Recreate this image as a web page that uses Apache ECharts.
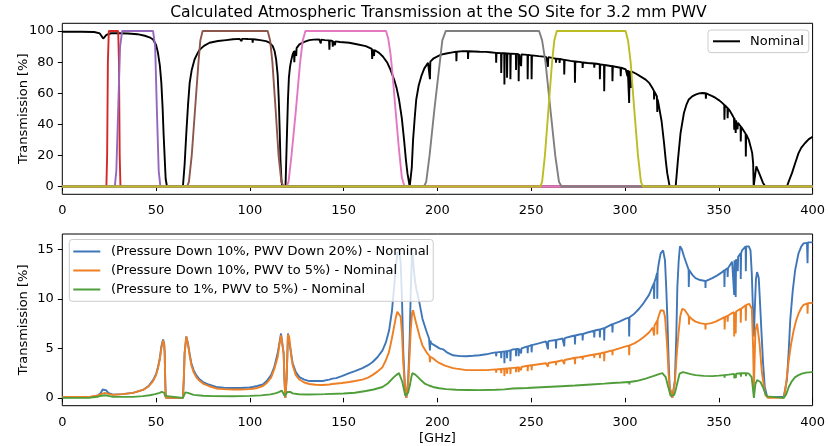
<!DOCTYPE html>
<html><head><meta charset="utf-8">
<script src="https://cdn.jsdelivr.net/npm/echarts@6/dist/echarts.min.js"></script>
<style>html,body{margin:0;padding:0;background:#fff}#c{width:828px;height:446px}</style>
</head><body><div id="c"></div>
<script>
const xTicks = [0, 50, 100, 150, 200, 250, 300, 350, 400];
const topYTicks = [0, 20, 40, 60, 80, 100];
const botYTicks = [0, 5, 10, 15];
const titleText = 'Calculated Atmospheric Transmission at the SO Site for 3.2 mm PWV';
const bottomNames = ['(Pressure Down 10%, PWV Down 20%) - Nominal', '(Pressure Down 10%, PWV to 5%) - Nominal', '(Pressure to 1%, PWV to 5%) - Nominal'];

// [GHz, %] Nominal transmission
const nominal = [[0,99.6],[10,99.6],[17,99.4],[20,98.5],[21.8,95.2],[23.5,97.5],[26,98.6],[30,98.6],[35,98.4],[40,98],[44,97],[46.5,96],[48.4,94.6],[50,91],[51,86],[52,78],[52.8,66.7],[53.5,50],[54,34],[54.6,18],[55.1,5],[55.8,0],
[64.3,0],[65.2,14],[66.1,34],[67,52],[67.9,66.7],[69,75],[70.5,81.7],[72,85.5],[73.2,88],[75.5,90.5],[78.5,92.5],[83,93.6],[87.4,94.2],[91,94.7],[94.5,95],[95.4,95],[95.6,93.5],[95.8,95],[97,95],[97.2,94],[97.4,95],[99,94.9],[101.3,94.8],[101.5,92.5],[101.7,94.8],[103,94.6],[105.5,94.2],[108.6,93.5],[110.5,92.5],[112.2,90.3],[113.2,87],[114,81.7],[114.8,72],[115.4,56],[115.9,36],[116.3,17],[116.8,5],[117.2,0],[119,0],[119.3,13],[119.8,35],[120.3,56],[120.8,70],[121.4,77],[122,81],[122.8,85],[123.5,87],[123.7,80],[123.9,87.5],[124.5,88.5],[124.7,84],[124.9,89],[126.4,91.4],[129,93],[131.7,94.2],[134,94.5],[137,94.6],[137.6,94.5],[137.8,92],[138,94.5],[140,94.2],[142.2,94],[142.4,88],[142.6,93.9],[144,93.6],[144.2,90],[144.4,93.5],[145.2,93.4],[145.4,91],[145.6,93.4],[148,93],[153,92.5],[157,91.5],[161.8,90.3],[165,88.5],[165.2,82],[165.4,88.3],[166,88],[166.2,84],[166.4,87.8],[168.9,86],[171,83.5],[173.3,79.6],[175,75],[176.9,68.8],[178.3,63],[179.5,56],[181,44],[182.2,30],[183.2,17],[184,8.6],[185.2,0],
[185.8,0],[186.3,12],[187,30],[188,46],[188.7,56],[190,65],[191.4,71],[193,76],[195,79.6],[195.8,80],[196,69],[196.2,80.3],[198,82.5],[200.3,83.9],[202,84.8],[204.7,85.6],[208,86.3],[210,86.7],[210.1,80.6],[210.3,86.7],[213.6,87.1],[216.2,87],[216.3,82],[216.5,87],[222.4,86.7],[226,86.6],[228,86.4],[231.2,86],[231.3,79.6],[231.5,86],[233.9,85.8],[234,73],[234.2,85.8],[235.6,85.7],[235.7,65.6],[235.9,85.7],[237,85.6],[237.1,70],[237.3,85.6],[238.8,85.5],[238.9,69],[239.1,85.5],[241.8,85.3],[241.9,75],[242.1,85.3],[243.2,85.2],[243.3,67.7],[243.5,85.2],[244.5,85.1],[244.6,77.4],[244.8,85],[248,84.7],[248.1,69],[248.3,84.7],[250.1,84.4],[250.2,69],[250.4,84.4],[254,83.9],[257.9,83.4],[258.8,83.2],[258.9,77],[259.1,83.2],[263.1,82.3],[263.2,79.6],[263.4,82.3],[265,82],[265.1,79.5],[265.3,82],[267.5,81.5],[267.6,72],[267.8,81.5],[271,80.8],[273.2,80.4],[273.3,66.7],[273.5,80.4],[275.6,80.2],[277.3,79.8],[277.4,76.3],[277.6,79.8],[280,79.5],[283.5,79.1],[283.6,76.5],[283.8,79.1],[286.5,78.7],[286.6,69],[286.8,78.6],[288.8,78.2],[288.9,61.3],[289.1,78.2],[293.2,77.4],[293.3,67.7],[293.5,77.4],[297.6,76.4],[297.7,71],[297.9,76.4],[300.4,75.3],[301.2,74.9],[301.3,71],[301.5,74.9],[302.1,74.6],[302.2,53.8],[302.4,74.4],[303,74.2],[303.1,63.4],[303.3,74.1],[305.7,72.7],[308,71],[311,68.8],[313,66.5],[314.6,63.4],[315.4,61.5],[315.5,56],[315.7,61],[317,58],[317.2,48],[317.4,56],[318.1,51.6],[319.5,42],[320.8,28],[321.7,17],[322.5,8.6],[323.8,0],
[327,0],[328.2,17],[329.6,34.4],[331.4,47.3],[332.7,52.5],[334,56],[335.8,58],[337.6,59.1],[339.5,59.9],[341.2,60.2],[343,60],[343.1,56.5],[343.3,60],[344.7,59.1],[346.5,58.2],[348.3,57],[350,55.6],[351.8,53.8],[352.9,52.5],[353,43],[353.2,52.3],[354.6,50.6],[354.7,44],[354.9,50.3],[356,48.5],[357.1,46.2],[358.1,44],[358.2,36.6],[358.4,43.8],[358.9,42.8],[359,34.4],[359.2,42.5],[359.9,41.5],[360,36.8],[360.2,41],[361,39.8],[361.6,38.8],[361.7,29],[361.9,38.5],[362.4,37.8],[364.3,34],[364.4,19.4],[364.6,33.6],[366,30],[367,25.5],[367.8,21.5],[368.3,15],[368.6,0],[369.1,5],[370,13],[371,10],[372.2,6.5],[373.5,2.5],[374.8,0],
[386.3,0],[387.5,4],[389,8.6],[390.7,15],[392.5,21.5],[394,25],[396,28],[398,30.5],[400,32]];

// [GHz, %] band passes
const band1 = [[0,0],[23.5,0],[23.9,20],[24.3,80],[24.8,100],[29.8,100],[30.2,80],[30.6,20],[31,0],[400,0]];
const band2 = [[0,0],[28,0],[28.8,10],[29.8,50],[30.8,90],[31.9,100],[48.4,100],[49.5,90],[50.4,50],[51.4,10],[52.3,0],[400,0]];
const band3 = [[0,0],[66.5,0],[67.5,3],[69,20],[70.8,50],[72.6,80],[73.6,94],[74.8,100],[109.5,100],[110.8,94],[112,80],[113.7,50],[115.3,20],[116.8,3],[118,0],[400,0]];
const band4 = [[0,0],[119.6,0],[120.6,3],[122.2,20],[124.6,50],[126.8,80],[128.2,94],[129.6,100],[172.6,100],[173.8,95],[175,85],[176,73],[177.6,50],[179.4,25],[181,6],[182.4,0],[400,0]];
const band5 = [[0,0],[192.8,0],[194,3],[195.8,20],[198.4,50],[200.8,75],[202.6,94],[204.4,100],[254.2,100],[255.8,94],[257.6,80],[260.2,50],[262.8,20],[264.8,3],[266.2,0],[400,0]];
const band6 = [[0,0],[254.8,0],[255.8,3],[257.3,20],[259.2,50],[261.1,80],[262.3,94],[263.6,100],[300.3,100],[301.6,94],[303,80],[304.9,50],[306.9,20],[308.5,3],[309.6,0],[400,0]];

// [GHz, %] differences
const diffA = [[0,0.05],[15,0.08],[19,0.25],[20.5,0.5],[21.5,0.85],[22.5,1.0],[23.5,0.75],[24.5,0.5],[27,0.33],[32,0.38],[37.7,0.5],[43,0.8],[46,1.2],[48.4,1.8],[50,2.4],[51,3.1],[52,4],[52.8,5.2],[53.7,5.9],[54.3,5.5],[54.6,4.5],[54.9,1.5],[55.2,0],[64.3,0],[64.8,2],[65.2,4.5],[66.1,6.2],[67,5.5],[68,4.3],[68.8,3.5],[70,2.8],[71.4,2.3],[73,1.9],[75,1.6],[78,1.35],[82,1.1],[86,1.02],[91,1.0],[95,1.0],[99.8,1.05],[101.5,1.1],[101.6,0.98],[101.7,1.1],[104,1.2],[106.9,1.35],[109,1.7],[111.3,2.3],[113,3.1],[114.8,4.5],[115.8,5.6],[116.6,6.5],[117.5,6.5],[118,4.5],[118.4,2],[118.9,0],[119.6,2],[120,4.5],[120.3,6.5],[121,6.3],[122,4.5],[122.8,3.5],[124.5,2.6],[126.4,2.1],[129,1.85],[131.7,1.7],[135,1.7],[138.8,1.7],[141,1.8],[142.3,1.85],[142.4,1.65],[142.5,1.85],[144,1.95],[146,2.0],[149,2.2],[153,2.5],[156,2.7],[160,3.0],[163,3.3],[165.3,3.6],[165.4,3.4],[165.5,3.65],[168,4.1],[170.7,4.8],[172.5,5.6],[174.2,6.8],[175.7,8.7],[176.9,11.2],[177.8,13],[178.6,14.6],[179.5,14.9],[180.4,13.6],[181.1,10],[181.8,4.5],[182.7,1],[183.4,0],[184.4,1.8],[185.2,6],[185.8,11],[186.5,14.9],[187,14.9],[187.9,12],[188.7,11],[189.6,10.3],[190.5,9.5],[192,8],[194,6.8],[195.5,6.0],[195.8,5.9],[196,4.8],[196.2,5.8],[196.7,5.5],[199.4,5.2],[201,5.0],[203,4.9],[205,4.6],[208.3,4.3],[212,4.22],[215.4,4.2],[219,4.25],[222.4,4.3],[226,4.4],[229.5,4.55],[231.2,4.6],[231.3,4.2],[231.5,4.6],[233.9,4.65],[234,4.0],[234.2,4.65],[235.6,4.7],[235.7,3.5],[235.9,4.7],[237,4.72],[237.1,4.0],[237.3,4.72],[238.8,4.8],[238.9,3.7],[239.1,4.8],[240.2,4.9],[241.8,4.92],[241.9,4.2],[242.1,4.93],[243.2,4.95],[243.3,4.2],[243.5,4.95],[244.5,5.0],[244.6,4.5],[244.8,5.0],[248,5.2],[248.1,4.5],[248.3,5.2],[249,5.3],[250.1,5.32],[250.2,4.6],[250.4,5.33],[254,5.5],[257.9,5.7],[258.8,5.72],[258.9,4.9],[259.1,5.73],[263.1,5.85],[263.2,5.0],[263.4,5.85],[266.7,6.0],[267.5,6.02],[267.6,5.2],[267.8,6.03],[271,6.2],[273.2,6.3],[273.3,5.4],[273.5,6.3],[275.6,6.4],[277.3,6.45],[277.4,5.8],[277.6,6.45],[280,6.6],[283.5,6.78],[283.6,6.1],[283.8,6.8],[284.4,6.8],[286.5,6.9],[286.6,6.1],[286.8,6.92],[288.8,7.05],[288.9,5.8],[289.1,7.05],[293.2,7.45],[293.3,6.6],[293.5,7.45],[297,7.7],[300.4,8.0],[302.1,8.1],[302.2,6.2],[302.4,8.15],[305,8.5],[307.5,9.0],[310,9.6],[312.8,10.4],[314.8,11.3],[315.4,11.6],[315.5,10.0],[315.7,11.7],[316.4,12.1],[317.1,12.6],[317.2,10.0],[317.4,12.8],[318,13.6],[319,14.6],[320.3,14.9],[321.3,13.9],[322,11],[322.6,7.9],[323.2,4],[323.8,1.1],[325.2,0],[326.6,1.8],[327.3,6],[327.9,11.2],[328.6,13.8],[329.3,15.3],[330.3,15.0],[331.4,14.3],[332.7,13.6],[333.9,12.95],[334,11.2],[334.2,12.9],[336,12.4],[337.6,12.1],[340,11.9],[342.8,11.8],[342.9,11.1],[343,11.8],[346.5,12.1],[349,12.35],[351.8,12.7],[352.9,12.9],[353,11.2],[353.2,12.9],[354.6,13.1],[354.7,12.2],[354.9,13.1],[357.1,13.75],[358.1,13.9],[358.2,10.4],[358.4,13.9],[358.9,14.0],[359,10.2],[359.2,14.0],[360,14.2],[360.1,12.8],[360.3,14.25],[361.6,14.6],[361.7,12.0],[361.9,14.6],[362.4,14.9],[364.3,15.3],[364.4,12.8],[364.6,15.3],[365.1,15.4],[366,15.3],[366.9,14.9],[367.6,12.5],[368.1,9.5],[368.7,6.2],[369.2,9],[369.8,12],[370.4,12.7],[371.3,12.1],[372,9.5],[372.7,6.8],[373.6,3.5],[374.5,1.1],[375.8,0.1],[384.6,0.1],[385.5,1],[386.3,1.8],[387.2,4.5],[388.1,7.9],[389.4,10.8],[390.7,12.9],[392.5,14.6],[394,15.3],[395.2,15.6],[397,15.65],[397.3,13.6],[397.5,15.7],[399.6,15.7],[400,15.7]];

const diffB = [[0,0.1],[15,0.12],[19,0.25],[21,0.4],[22.7,0.5],[24.5,0.4],[27,0.3],[32,0.38],[37.7,0.5],[43,0.8],[46,1.15],[48.4,1.7],[50,2.3],[51,3.0],[52,3.9],[52.8,5.0],[53.7,5.8],[54.3,5.4],[54.6,4.4],[54.9,1.5],[55.2,0],[64.3,0],[64.8,2],[65.2,4.5],[66.1,6.2],[67,5.4],[68,4.2],[68.8,3.3],[70,2.6],[71.4,2.1],[73,1.75],[75,1.45],[78,1.2],[82,0.95],[86,0.88],[91,0.85],[95,0.85],[99.8,0.88],[101.5,0.92],[101.6,0.82],[101.7,0.92],[104,1.0],[106.9,1.2],[109,1.5],[111.3,2.05],[113,2.9],[114.8,4.1],[115.8,5.4],[116.6,6.3],[117.5,6.4],[118,4.5],[118.4,2],[118.9,0],[119.6,2],[120,4.5],[120.3,6.4],[121,6.1],[122,4.3],[122.8,3.3],[124.5,2.3],[126.4,1.85],[129,1.55],[131.7,1.4],[135,1.32],[138.8,1.3],[142.3,1.35],[142.4,1.2],[142.5,1.35],[144,1.4],[149,1.5],[153,1.6],[156,1.7],[160,1.85],[163,2.05],[165.3,2.3],[165.4,2.15],[165.5,2.3],[168,2.65],[170.7,3.1],[172.5,3.8],[174.2,4.65],[175.7,6],[176.9,7.2],[177.8,8.1],[178.6,8.7],[179.5,8.85],[180.4,8.2],[181.1,6.5],[181.8,3.5],[182.7,1],[183.4,0],[184.4,1.5],[185.2,4.5],[185.8,7],[186.5,8.6],[187,8.85],[187.8,8.2],[188.7,7.5],[190.5,6.2],[192,5.3],[194,4.65],[195.8,4.2],[196,3.6],[196.2,4.15],[197.6,4.0],[199.5,3.7],[201.2,3.5],[204,3.25],[208.3,3.0],[210.1,2.95],[210.2,2.75],[210.3,2.95],[212,2.9],[215.4,2.8],[216.3,2.8],[216.4,2.65],[216.5,2.8],[222,2.8],[226,2.8],[231.2,2.88],[231.3,2.55],[231.5,2.88],[233.9,2.92],[234,2.5],[234.2,2.92],[235.6,2.95],[235.7,2.2],[235.9,2.95],[237,2.97],[237.1,2.45],[237.3,2.97],[238.8,3.0],[238.9,2.4],[239.1,3.0],[241.8,3.05],[241.9,2.6],[242.1,3.05],[243.2,3.1],[243.3,2.6],[243.5,3.1],[244.5,3.12],[244.6,2.8],[244.8,3.12],[248,3.25],[248.1,2.7],[248.3,3.25],[249,3.3],[250.1,3.3],[250.2,2.8],[250.4,3.3],[254,3.4],[257.9,3.5],[258.8,3.52],[258.9,3.15],[259.1,3.52],[263.1,3.65],[263.2,3.3],[263.4,3.65],[266.7,3.8],[267.5,3.82],[267.6,3.4],[267.8,3.82],[271,3.95],[273.2,4.05],[273.3,3.4],[273.5,4.05],[275.6,4.1],[277.3,4.15],[277.4,3.85],[277.6,4.15],[280,4.25],[283.5,4.38],[283.6,4.05],[283.8,4.38],[286.5,4.5],[286.6,4.0],[286.8,4.5],[288.8,4.58],[288.9,3.7],[289.1,4.58],[293.2,4.8],[293.3,4.3],[293.5,4.8],[297,5.0],[300.4,5.2],[302.1,5.28],[302.2,4.3],[302.4,5.3],[305,5.5],[307.5,5.8],[310,6.15],[312.8,6.6],[314.8,7.1],[315.4,7.25],[315.5,6.3],[315.7,7.3],[316.4,7.5],[317.1,7.8],[317.2,6.4],[317.4,7.9],[318,8.3],[319,8.85],[319.9,9.0],[320.6,8.8],[321.3,8.2],[322,6.5],[322.6,4.8],[323.2,2.5],[323.8,1.1],[325.2,0],[326.6,1.6],[327.5,4.2],[328.5,6.5],[329.5,8.3],[330.5,9.0],[331.7,8.9],[333.2,8.5],[334,8.25],[334.1,7.4],[334.3,8.2],[336,7.9],[337.6,7.7],[340,7.55],[342.8,7.45],[342.9,6.9],[343,7.45],[346,7.55],[348.3,7.7],[351,7.95],[353,8.15],[353.1,6.9],[353.3,8.15],[354.6,8.3],[354.7,7.7],[354.9,8.3],[356.5,8.5],[358.1,8.65],[358.2,6.2],[358.4,8.65],[358.9,8.7],[359,6.5],[359.2,8.72],[361.6,9.0],[361.7,7.6],[361.9,9.0],[364.3,9.35],[364.4,7.8],[364.6,9.4],[366.2,9.5],[367.6,9.0],[368.3,5.0],[368.7,1],[369.5,6.8],[370.4,7.5],[371.7,5.5],[373,2.5],[374.8,0.3],[376.2,0],[384.6,0],[385.5,0.9],[386.4,2.3],[387.3,3.8],[388.5,5.4],[389.9,6.8],[391.2,7.8],[392.5,8.5],[394,9.1],[395.2,9.4],[397.2,9.55],[397.3,8.5],[397.5,9.55],[399.6,9.6],[400,9.6]];

const diffC = [[0,0],[15,0.02],[19,0.12],[21,0.22],[22.7,0.27],[24.5,0.2],[27,0.1],[32,0.1],[37.7,0.1],[43,0.18],[46.6,0.27],[49.5,0.38],[51.9,0.5],[53,0.6],[53.7,0.7],[54.4,0.5],[54.8,0.2],[55.2,0],[64.3,0],[65,0.3],[65.6,0.55],[66.1,0.6],[67,0.5],[68,0.4],[70,0.3],[75,0.22],[80,0.18],[91,0.17],[100,0.2],[106,0.25],[111,0.35],[114,0.48],[115.7,0.6],[117,0.75],[117.8,0.6],[118.5,0.2],[118.9,0],[119.4,0.2],[120,0.6],[120.5,0.78],[121.5,0.6],[122.8,0.45],[126,0.36],[131,0.34],[140,0.38],[150,0.44],[156,0.52],[161.8,0.7],[166,0.85],[170.7,1.1],[173.5,1.45],[176,1.95],[178,2.3],[179.5,2.5],[180.4,2.35],[181.3,1.6],[182.2,0.8],[182.9,0.2],[183.4,0],[184.3,0.5],[185.2,1.2],[186,2.0],[186.6,2.5],[187,2.6],[188.2,2.35],[189.6,2.1],[191.4,1.75],[193.2,1.45],[195.5,1.25],[197.6,1.1],[201,0.97],[204.7,0.88],[210,0.82],[216,0.8],[222.4,0.78],[231,0.82],[235.7,0.86],[235.8,0.7],[235.9,0.86],[240.2,0.95],[248,1.0],[248.1,0.85],[248.2,1.0],[250,1.02],[257.9,1.1],[266,1.18],[273.3,1.25],[273.4,1.1],[273.5,1.25],[275.6,1.28],[284,1.38],[288.9,1.44],[289,1.25],[289.1,1.44],[293.3,1.5],[298,1.55],[302.2,1.6],[302.3,1.35],[302.4,1.6],[306,1.7],[311,1.95],[315,2.2],[318.1,2.4],[319.9,2.5],[320.8,2.4],[321.7,2.1],[322.6,1.4],[323.5,0.8],[324.3,0.2],[325.2,0],[326.2,0.3],[327,0.8],[328,1.6],[329.1,2.45],[330.9,2.6],[333,2.5],[335,2.4],[337.6,2.3],[342,2.22],[346.5,2.2],[350,2.25],[353,2.3],[353.1,2.05],[353.2,2.3],[355.3,2.35],[358.2,2.42],[358.3,1.95],[358.4,2.42],[359,2.44],[359.1,2.0],[359.2,2.44],[361.7,2.48],[361.8,2.15],[361.9,2.48],[364.4,2.5],[364.5,2.2],[364.6,2.5],[366,2.45],[366.9,2.35],[367.5,2.1],[368.1,1.1],[368.7,0],[369.5,1.4],[370.4,1.8],[371.3,1.75],[372.2,1.6],[373.5,1.1],[374.8,0.45],[375.7,0.15],[376.6,0],[384.6,0],[385.9,0.35],[387.3,1.1],[389,1.7],[390.7,2.1],[392.5,2.3],[394.3,2.45],[396.5,2.55],[399.6,2.6],[400,2.6]];

const FONT = 'DejaVu Sans';
const FS = 13;
const LW = 1.9;
const bandColors = ['#d62728', '#9467bd', '#8c564b', '#e377c2', '#7f7f7f', '#bcbd22'];
const diffColors = ['#3f76b8', '#ee7f22', '#4f9e3a'];

const chart = echarts.init(document.getElementById('c'), null, {renderer: 'canvas'});

function xAx(gi, withName) {
  return {
    type: 'value', gridIndex: gi, min: 0, max: 400, interval: 50,
    axisLine: {show: false},
    axisTick: {show: true, length: 4.5, lineStyle: {color: '#000', width: 1}},
    axisLabel: {color: '#000', fontFamily: FONT, fontSize: FS, margin: 10, customValues: xTicks},
    splitLine: {show: false},
    name: withName ? '[GHz]' : '', nameLocation: 'middle', nameGap: 26, nameMoveOverlap: false,
    nameTextStyle: {color: '#000', fontFamily: FONT, fontSize: FS}
  };
}
function yAx(gi, mn, mx, ticks) {
  return {
    type: 'value', gridIndex: gi, min: mn, max: mx,
    axisLine: {show: false},
    axisTick: {show: true, length: 4.5, lineStyle: {color: '#000', width: 1}, customValues: ticks},
    axisLabel: {color: '#000', fontFamily: FONT, fontSize: FS, margin: 8.5, customValues: ticks},
    splitLine: {show: false},
    name: 'Transmission [%]', nameLocation: 'middle', nameGap: 32, nameMoveOverlap: false,
    nameTextStyle: {color: '#000', fontFamily: FONT, fontSize: FS}
  };
}
function lineSeries(name, data, color, xi, z) {
  return {
    type: 'line', name: name, data: data, xAxisIndex: xi, yAxisIndex: xi,
    showSymbol: false, symbol: 'none', color: color, z: z,
    lineStyle: {color: color, width: LW}, animation: false, clip: true
  };
}

const series = [lineSeries('Nominal', nominal, '#000', 0, 2)];
[band1, band2, band3, band4, band5, band6].forEach((b, i) => series.push(lineSeries('band' + (i + 1), b, bandColors[i], 0, 3 + i)));
[diffA, diffB, diffC].forEach((d, i) => series.push(lineSeries(bottomNames[i], d, diffColors[i], 1, 2 + i)));

chart.setOption({
  animation: false,
  backgroundColor: '#fff',
  textStyle: {fontFamily: FONT},
  title: {text: titleText, left: 438.5, top: 5, padding: 0, textAlign: 'center',
    textStyle: {fontFamily: FONT, fontSize: 15.6, fontWeight: 'normal', color: '#000'}},
  grid: [
    {left: 62.3, right: 13.3, top: 23.3, height: 171, show: true, borderColor: '#000', borderWidth: 1, backgroundColor: 'transparent'},
    {left: 62.3, right: 13.3, top: 234, height: 171.7, show: true, borderColor: '#000', borderWidth: 1, backgroundColor: 'transparent'}
  ],
  xAxis: [xAx(0, false), xAx(1, true)],
  yAxis: [yAx(0, -5, 105, topYTicks), yAx(1, -0.79, 16.55, botYTicks)],
  legend: [
    {data: ['Nominal'], left: 708, top: 30, orient: 'vertical', icon: 'rect', itemWidth: 27, itemHeight: 2,
      padding: [4.8, 5, 4.8, 5], backgroundColor: 'rgba(255,255,255,0.8)', borderColor: '#ccc', borderWidth: 1, borderRadius: 3,
      textStyle: {fontFamily: FONT, fontSize: FS, color: '#000', padding: [0, 0, 0, 5]}, selectedMode: false},
    {data: bottomNames, left: 69.3, top: 239.5, orient: 'vertical', icon: 'rect', itemWidth: 27, itemHeight: 2, itemGap: 6,
      padding: [5.5, 4, 5.3, 4], backgroundColor: 'rgba(255,255,255,0.8)', borderColor: '#ccc', borderWidth: 1, borderRadius: 3,
      textStyle: {fontFamily: FONT, fontSize: FS, color: '#000', padding: [0, 0, 0, 5.7]}, selectedMode: false}
  ],
  series: series
});
</script></body></html>
